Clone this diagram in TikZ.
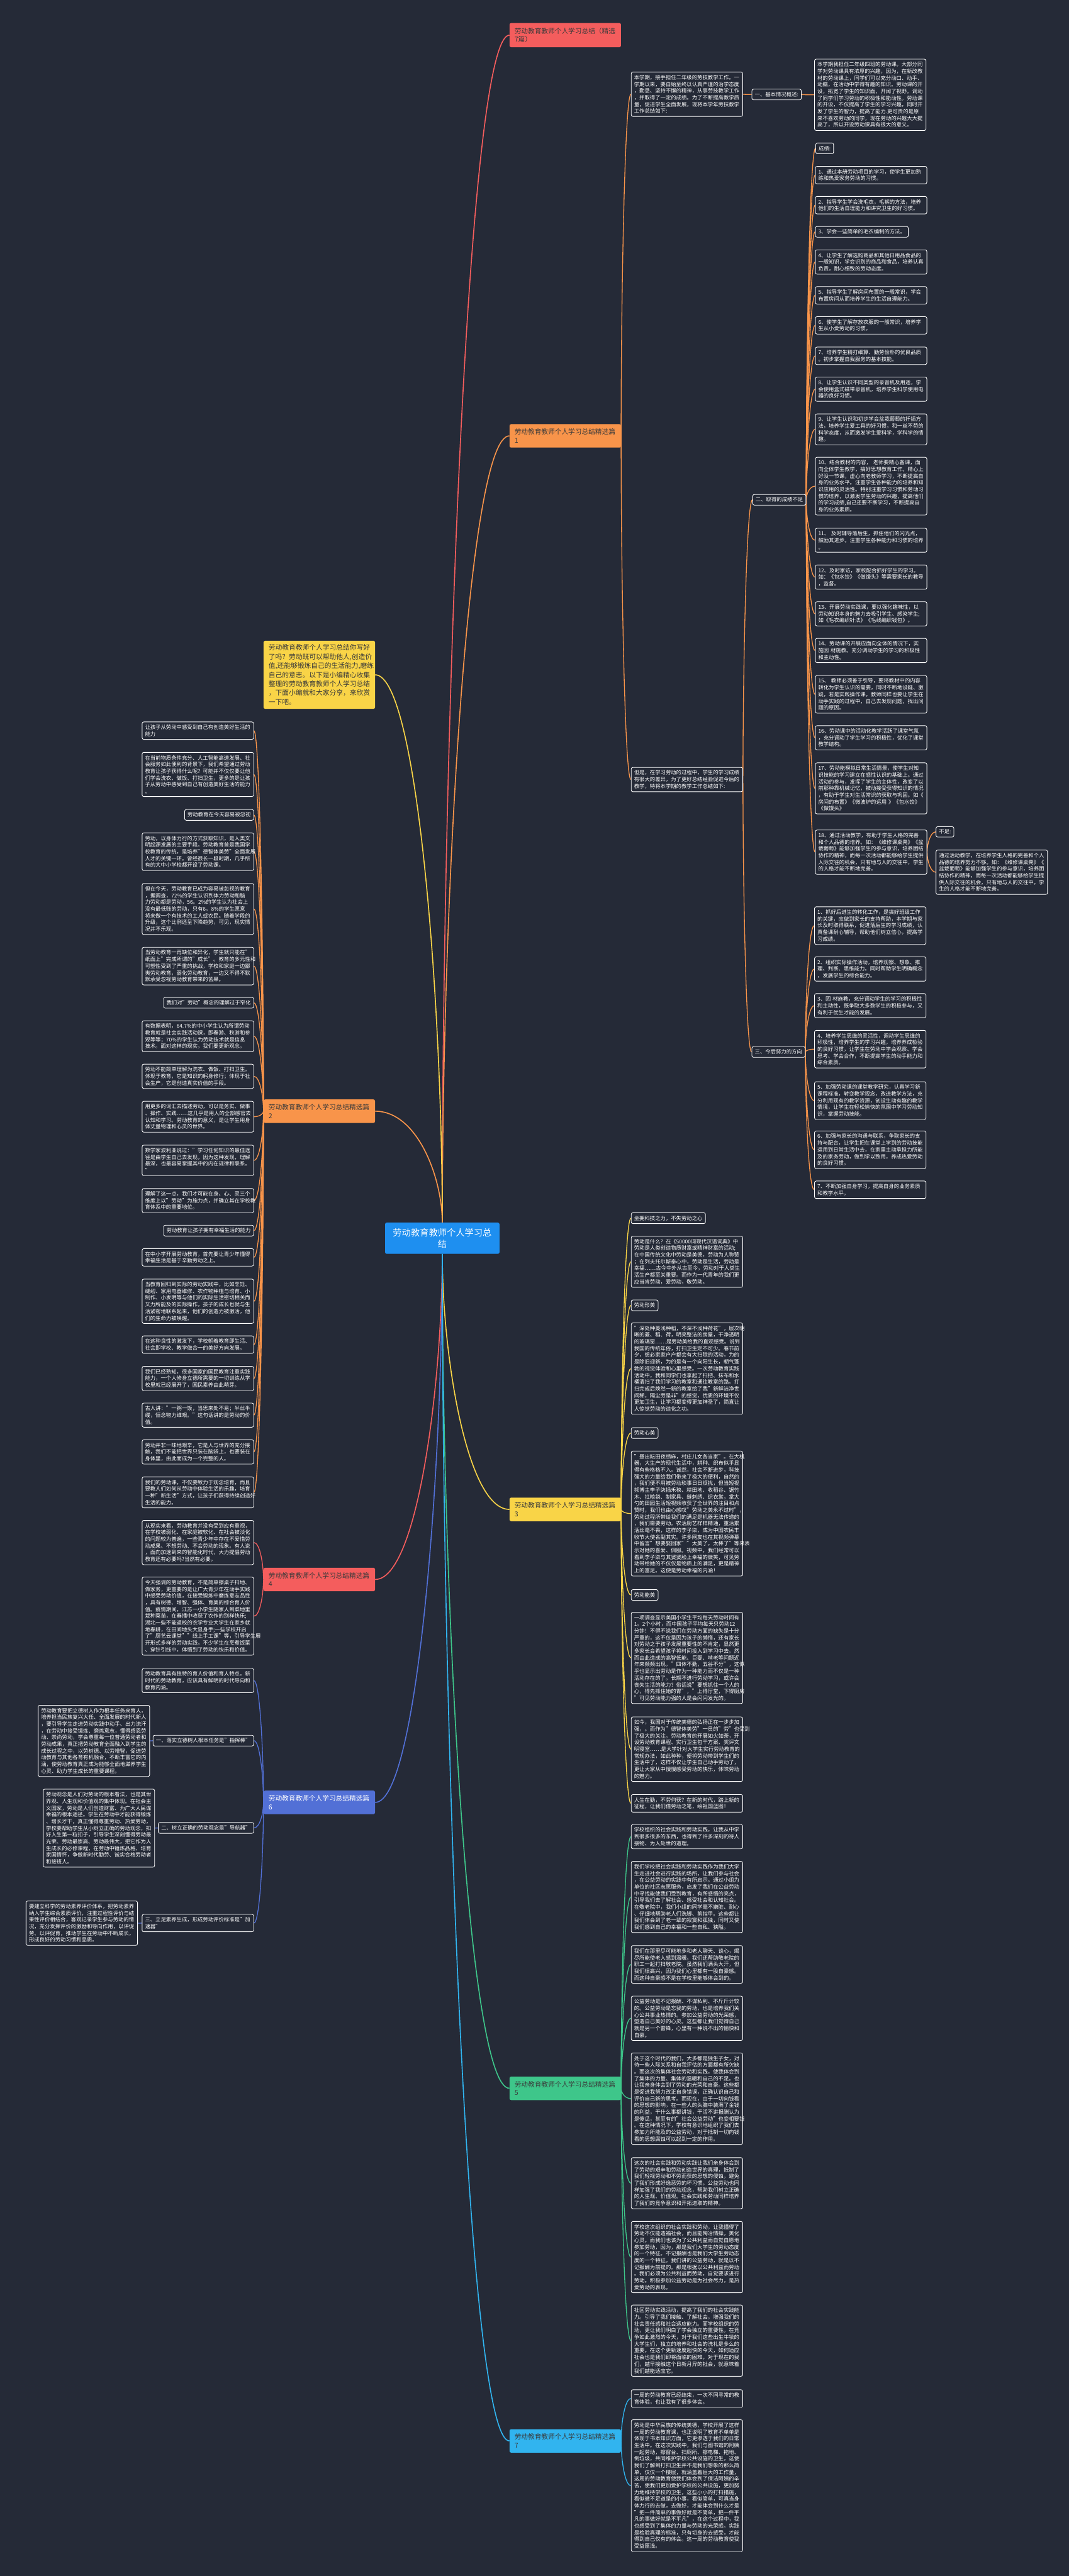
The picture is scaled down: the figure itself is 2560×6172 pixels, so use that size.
\documentclass[tikz,border=0pt]{standalone}
\usepackage{fontspec}
\setmainfont{Noto Sans CJK SC}
\usetikzlibrary{calc}
\definecolor{bgc}{HTML}{252A37}
\definecolor{cred}{HTML}{F45D5D}
\definecolor{corg}{HTML}{F8944A}
\definecolor{cyel}{HTML}{F9D447}
\definecolor{cgrn}{HTML}{3EC68A}
\definecolor{cblu}{HTML}{5270D6}
\definecolor{ccya}{HTML}{31B4EF}
\definecolor{cctr}{HTML}{1E8FF0}
\definecolor{dtxt}{HTML}{3A3A3A}
\pgfdeclarelayer{back}
\pgfsetlayers{back,main}
\newcommand\fbody{\fontsize{12.6}{16.1}\selectfont}
\newcommand\fbr{\fontsize{16.1}{20.6}\selectfont}
\newcommand\fctr{\fontsize{21.5}{27}\selectfont}
\newcommand\lnk[4][2pt]{\draw[#2,line width=#1] (#3) .. controls ($(#3)!0.4!(#3|-#4)$) and ($(#3|-#4)!0.37!(#4)$) .. (#4);}
\tikzset{
  tb/.style={draw=white, line width=1.3pt, rounded corners=4pt, fill=bgc, text=white, font=\fbody, inner xsep=7pt, inner ysep=7pt, align=left},
  tw/.style={tb, text width=253pt},
  br/.style={rounded corners=4pt, font=\fbr, inner xsep=12pt, inner ysep=11pt, align=left, text width=243pt, text=dtxt},
  L/.style={anchor=north west},
  R/.style={anchor=north east},
}
\begin{document}
\begin{tikzpicture}[x=1pt,y=-1pt]
\useasboundingbox (0,0) rectangle (2560,6172);
% ---------- central and branches
\node[anchor=north west, fill=cctr, rounded corners=4pt, text=white, font=\fctr, align=center, text width=238pt, inner xsep=18pt, inner ysep=14pt] (ctr) at (922,2929) {劳动教育教师个人学习总\\结};
\node[br, L, fill=cred] (ttl) at (1220,55) {劳动教育教师个人学习总结（精选\\7篇）};
\node[br, L, fill=corg] (p1) at (1220,1016) {劳动教育教师个人学习总结精选篇\\1};
\node[br, L, fill=cyel, inner ysep=9pt, font=\fontsize{16.2}{21.7}\selectfont] (intro) at (631,1535) {劳动教育教师个人学习总结你写好\\了吗？劳动既可以帮助他人,创造价\\值,还能够锻炼自己的生活能力,磨练\\自己的意志。以下是小编精心收集\\整理的劳动教育教师个人学习总结\\，下面小编就和大家分享，来欣赏\\一下吧。};
\node[br, L, fill=corg] (p2) at (631,2634) {劳动教育教师个人学习总结精选篇\\2};
\node[br, L, fill=cyel] (p3) at (1220,3588) {劳动教育教师个人学习总结精选篇\\3};
\node[br, L, fill=cred] (p4) at (631,3756) {劳动教育教师个人学习总结精选篇\\4};
\node[br, L, fill=cgrn] (p5) at (1220,4975) {劳动教育教师个人学习总结精选篇\\5};
\node[br, L, fill=cblu, text=white] (p6) at (631,4290) {劳动教育教师个人学习总结精选篇\\6};
\node[br, L, fill=ccya] (p7) at (1220,5820) {劳动教育教师个人学习总结精选篇\\7};
% ---------- part 1
\node[tw, L] (a1) at (1511,172) {本学期，接手担任二年级的劳技教学工作。一\\学期以来，要自始至终以认真严谨的治学态度\\，勤恳、坚持不懈的精神，从事劳技教学工作\\，并取得了一定的成绩。为了不断提高教学质\\量，促进学生全面发展，现将本学年劳技教学\\工作总结如下:};
\node[tb, L] (one) at (1800,213) {一、基本情况概述:};
\node[tw, L] (b1) at (1950,141) {本学期我担任二年级四班的劳动课。大部分同\\学对劳动课具有浓厚的兴趣，因为，在新改教\\材的劳动课上，同学们可以充分动口、动手、\\动脑，在活动中学得有趣的知识。劳动课的开\\设，拓宽了学生的知识面，开阔了视野。调动\\了同学们学习劳动的积极性和能动性。劳动课\\的开设，不仅提高了学生的学习兴趣，同时开\\发了学生的智力，提高了能力.更可贵的是原\\来不喜欢劳动的同学，现在劳动的兴趣大大提\\高了，所以开设劳动课具有很大的意义。};
\node[tw, L] (c1) at (1511,1838) {但是，在学习劳动的过程中，学生的学习成绩\\有很大的差异，为了更好总结经验促进今后的\\教学，特将本学期的教学工作总结如下:};
\node[tb, L] (two) at (1802,1184) {二、取得的成绩不足};
\node[tb, L] (three) at (1800,2507) {三、今后努力的方向};
\node[tb, L] (cj) at (1953,342) {成绩:};
\node[tw, L] (i1) at (1952,398) {1、通过本册劳动项目的学习，使学生更加熟\\练和热爱家务劳动的习惯。};
\node[tw, L] (i2) at (1952,470) {2、指导学生学会洗毛衣，毛裤的方法，培养\\他们的生活自理能力和讲究卫生的好习惯。};
\node[tb, L] (i3) at (1952,542) {3、学会一些简单的毛衣编制的方法。};
\node[tw, L] (i4) at (1952,598) {4、让学生了解选购商品和其他日用品食品的\\一般知识，学会识别的商品和食品，培养认真\\负责，耐心细致的劳动态度。};
\node[tw, L] (i5) at (1952,686) {5、指导学生了解房间布置的一般常识，学会\\布置房间从而培养学生的生活自理能力。};
\node[tw, L] (i6) at (1952,758) {6、使学生了解存放衣服的一般常识，培养学\\生从小爱劳动的习惯。};
\node[tw, L] (i7) at (1952,831) {7、培养学生精打细算、勤劳俭朴的优良品质\\。初步掌握自我服务的基本技能。};
\node[tw, L] (i8) at (1952,903) {8、让学生认识不同类型的录音机及用途，学\\会使用盒式磁带录音机，培养学生科学使用电\\器的良好习惯。};
\node[tw, L] (i9) at (1952,991) {9、让学生认识和初步学会盆栽葡萄的扦插方\\法，培养学生爱工具的好习惯，和一丝不苟的\\科学态度，从而激发学生爱科学，学科学的情\\趣。};
\node[tw, L] (i10) at (1952,1095) {10、结合教材的内容， 老师要精心备课，面\\向全体学生教学，搞好思想教育工作。精心上\\好没一节课，虚心向老教师学习，不断提高自\\身的业务水平。注重学生各种能力的培养和知\\识应用的灵活性。特别注重学习习惯和劳动习\\惯的培养，以激发学生劳动的兴趣，提高他们\\的学习成绩,自己还要不断学习，不断提高自\\身的业务素质。};
\node[tw, L] (i11) at (1952,1265) {11、 及时辅导落后生，抓住他们的闪光点，\\鼓励其进步。注重学生各种能力和习惯的培养\\。};
\node[tw, L] (i12) at (1952,1353) {12、及时家访，家校配合抓好学生的学习。\\如：《包水饺》《做馒头》等需要家长的教导\\，监督。};
\node[tw, L] (i13) at (1952,1441) {13、开展劳动实践课，要以强化趣味性，以\\劳动知识本身的魅力去吸引学生、感染学生;\\如《毛衣编织针法》《毛线编织钱包》。};
\node[tw, L] (i14) at (1952,1529) {14、劳动课的开展应面向全体的情况下，实\\施因 材施教。充分调动学生的学习的积极性\\和主动性。};
\node[tw, L] (i15) at (1952,1618) {15、 教师必须善于引导，要将教材中的内容\\转化为学生认识的需要，同时不断地设疑、激\\疑，若是实践操作课，教师同样也要让学生在\\动手实践的过程中，自己去发现问题，找出问\\题的原因。};
\node[tw, L] (i16) at (1952,1738) {16、劳动课中的活动化教学活跃了课堂气氛\\，充分调动了学生学习的积极性，优化了课堂\\教学结构。};
\node[tw, L] (i17) at (1952,1827) {17、劳动能模拟日常生活情景，使学生对知\\识技能的学习建立在感性认识的基础上。通过\\活动的参与，发挥了学生的主体性，改变了以\\前那种靠机械记忆，被动接受获得知识的情况\\，有助于学生对生活常识的获取与巩固。如《\\房间的布置》《微波炉的运用 》《包水饺》\\《做馒头》};
\node[tw, L] (i18) at (1952,1988) {18、通过活动教学，有助于学生人格的完善\\和个人品德的培养。如：《维修课桌凳》《盆\\栽葡萄》能够加强学生的参与意识，培养团结\\协作的精神，而每一次活动都能够给学生提供\\人际交往的机会，只有地与人的交往中，学生\\的人格才能不断地完善。};
\node[tb, L] (bz) at (2241,1980) {不足:};
\node[tw, L] (bzt) at (2241,2036) {通过活动教学，在培养学生人格的完善和个人\\品德的培养努力不够。如：《维修课桌凳》《\\盆栽葡萄》能够加强学生的参与意识，培养团\\结协作的精神，而每一次活动都能够给学生提\\供人际交往的机会，只有地与人的交往中，学\\生的人格才能不断地完善。};
\node[tw, L] (t1) at (1950,2172) {1、抓好后进生的转化工作，是搞好班级工作\\的关键，应做到家长的支持帮助，本学期与家\\长及时取得联系，促进落后生的学习成绩，认\\真备课耐心辅导，帮助他们树立信心，提高学\\习成绩。};
\node[tw, L] (t2) at (1950,2292) {2、组织实际操作活动，培养观察、想象、推\\理、判断、思维能力。同时帮助学生明确概念\\，发展学生的综合能力。};
\node[tw, L] (t3) at (1950,2380) {3、因 材施教，充分调动学生的学习的积极性\\和主动性，既争取大多数学生的积极参与，又\\有利于优生才能的发展。};
\node[tw, L] (t4) at (1950,2468) {4、培养学生思维的灵活性，调动学生思维的\\积极性，培养学生的学习兴趣，培养养成检验\\的良好习惯，让学生在劳动中学会观察、学会\\思考、学会合作，不断提高学生的动手能力和\\综合素质。};
\node[tw, L] (t5) at (1950,2591) {5、加强劳动课的课堂教学研究，认真学习新\\课程标准，转变教学观念，改进教学方法，充\\分利用现有的教学资源，创设生动有趣的教学\\情境，让学生在轻松愉快的氛围中学习劳动知\\识，掌握劳动技能。};
\node[tw, L] (t6) at (1950,2709) {6、加强与家长的沟通与联系，争取家长的支\\持与配合，让学生把在课堂上学到的劳动技能\\运用到日常生活中去，在家里主动承担力所能\\及的家务劳动，做到学以致用，养成热爱劳动\\的良好习惯。};
\node[tw, L] (t7) at (1950,2829) {7、不断加强自身学习，提高自身的业务素质\\和教学水平。};
% ---------- part 2
\node[tw, R] (q1) at (608,1729) {让孩子从劳动中感受到自己有创造美好生活的\\能力};
\node[tw, R] (q2) at (608,1802) {在当前物质条件充分、人工智能高速发展、社\\会服务如此便利的背景下，我们希望通过劳动\\教育让孩子获得什么呢？可能并不仅仅要让他\\们学会洗衣、做饭、打扫卫生，更多的是让孩\\子从劳动中感受到自己有创造美好生活的能力\\。};
\node[tb, R] (q3) at (608,1939) {劳动教育在今天容易被忽视};
\node[tw, R] (q4) at (608,1995) {劳动，以身体力行的方式获取知识，是人类文\\明起源发展的主要手段。劳动教育曾是我国学\\校教育的传统，是培养"德智体美劳"全面发展\\人才的关键一环。曾经很长一段时期，几乎所\\有的大中小学校都开设了劳动课。};
\node[tw, R] (q5) at (608,2116) {但在今天，劳动教育已成为容易被忽视的教育\\，据调查，72\%的学生认识到体力劳动和脑\\力劳动都是劳动，56。2\%的学生认为社会上\\没有最低贱的劳动，只有6。8\%的学生愿意\\将来做一个有技术的工人或农民。随着学段的\\升级，这个比例还呈下降趋势，可见，现实情\\况并不乐观。};
\node[tw, R] (q6) at (608,2269) {当劳动教育一再缺位和异化，学生就只能在"\\纸面上"完成所谓的"成长"。教育的多元性和\\可塑性受到了严重的挑战，学校和家庭一边鄙\\夷劳动教育，弱化劳动教育，一边又不得不默\\默承受忽视劳动教育带来的苦果。};
\node[tb, R] (q7) at (608,2389) {我们对"劳动"概念的理解过于窄化};
\node[tw, R] (q8) at (608,2445) {有数据表明，64.7\%的中小学生认为所谓劳动\\教育就是社会实践活动课，即春游、秋游和参\\观等等；70\%的学生认为劳动技术就是信息\\技术。面对这样的现实，我们要更新观念。};
\node[tw, R] (q9) at (608,2549) {劳动不能简单理解为洗衣、做饭、打扫卫生。\\体现于教育，它是知识的躬身修行；体现于社\\会生产，它是创造真实价值的手段。};
\node[tw, R] (q10) at (608,2638) {用更多的词汇去描述劳动，可以是务实、做事\\、操作、实践……这几乎是用人的全部感官去\\认知和学习。劳动教育的意义，是让学生用身\\体丈量物理和心灵的世界。};
\node[tw, R] (q11) at (608,2743) {数学家波利亚说过："学习任何知识的最佳途\\径是由学生自己去发现，因为这种发现，理解\\最深，也最容易掌握其中的内在规律和联系。\\"};
\node[tw, R] (q12) at (608,2847) {理解了这一点，我们才可能在身、心、灵三个\\维度上以"劳动"为施力点，并确立其在学校教\\育体系中的重要地位。};
\node[tb, R] (q13) at (608,2935) {劳动教育让孩子拥有幸福生活的能力};
\node[tw, R] (q14) at (608,2991) {在中小学开展劳动教育，首先要让青少年懂得\\幸福生活是基于辛勤劳动之上。};
\node[tw, R] (q15) at (608,3064) {当教育回归到实际的劳动实践中，比如烹饪、\\缝纫、家用电器维修、农作物种植与培育、小\\制作、小发明等与他们的实际生活密切相关而\\又力所能及的实际操作，孩子的成长也就与生\\活紧密地联系起来，他们的创造力被激活，他\\们的生命力被唤醒。};
\node[tw, R] (q16) at (608,3200) {在这种良性的激发下，学校朝着教育即生活、\\社会即学校、教学做合一的美好方向发展。};
\node[tw, R] (q17) at (608,3273) {我们已经熟知，很多国家的国民教育注重实践\\能力，一个人修身立德所需要的一切训练从学\\校里就已经展开了，国民素养由此萌芽。};
\node[tw, R] (q18) at (608,3361) {古人讲："一粥一饭，当思来处不易；半丝半\\缕，恒念物力维艰。"这句话讲的是劳动的价\\值。};
\node[tw, R] (q19) at (608,3449) {劳动并非一味地艰辛，它是人与世界的充分接\\触，我们不能把世界只装在脑袋上，也要装在\\身体里，由此而成为一个完整的人。};
\node[tw, R] (q20) at (608,3538) {我们的劳动课，不仅要致力于观念培育，而且\\要教人们如何从劳动中体验生活的乐趣，培育\\一种"新生活"方式，让孩子们获得持续创造好\\生活的能力。};
% ---------- part 4
\node[tw, R] (u1) at (608,3642) {从现实来看，劳动教育并没有受到应有重视，\\在学校被弱化、在家庭被软化、在社会被淡化\\的问题较为普遍，一些青少年中存在不爱惜劳\\动成果、不想劳动、不会劳动的现象。有人说\\，面向加速到来的智能化时代，大力提倡劳动\\教育还有必要吗?当然有必要。};
\node[tw, R] (u2) at (608,3778) {今天强调的劳动教育，不是简单擦桌子扫地、\\做家务，更重要的是让广大青少年在动手实践\\中感受劳动价值，在接受锻炼中磨炼意志品性\\，具有树德、增智、强体、育美的综合育人价\\值。疫情期间，江苏一小学生随家人到菜地里\\栽种菜苗，在春播中收获了农作的别样快乐;\\湖北一些不能返校的农学专业大学生在家乡就\\地春耕，在田间地头大显身手;一些学校开启\\了"厨艺云课堂""线上手工课"等，引导学生展\\开形式多样的劳动实践，不少学生在烹煮饭菜\\、穿针引线中，体悟到了劳动的快乐和价值。};
% ---------- part 6
\node[tw, R] (w1) at (608,3997) {劳动教育具有独特的育人价值和育人特点。新\\时代的劳动教育，应该具有鲜明的时代导向和\\教育内涵。};
\node[tb, R] (w2) at (608,4157) {一、落实立德树人根本任务是"指挥棒"};
\node[tb, R] (w3) at (608,4366) {二、树立正确的劳动观念是"导航器"};
\node[tw, R] (w4) at (608,4586) {三、立足素养生成，形成劳动评价标准是"加\\速器"};
\node[tw, R] (x1) at (359,4085) {劳动教育要把立德树人作为根本任务来育人，\\培养担当民族复兴大任、全面发展的时代新人\\，要引导学生走进劳动实践中动手、出力流汗\\，在劳动中接受锻炼、磨炼意志，懂得感恩劳\\动、崇尚劳动，学会尊重每一位普通劳动者和\\劳动成果，真正把劳动教育全面融入到学生的\\成长过程之中，以劳树德、以劳增智，促进劳\\动教育与其他各育有机融合，不断丰富它的内\\涵，使劳动教育真正成为能够全面地滋养学生\\心灵、助力学生成长的重要课程。};
\node[tw, R] (x2) at (371,4286) {劳动观念是人们对劳动的根本看法，也是其世\\界观、人生观和价值观的集中体现。在社会主\\义国家，劳动是人们创造财富、为广大人民谋\\幸福的根本途径。学生在劳动中才能获得锻炼\\、增长才干，真正懂得尊重劳动、热爱劳动，\\学校要帮助学生从小树立正确的劳动观念，扣\\好人生第一粒扣子，引导学生深刻懂得劳动最\\光荣、劳动最崇高、劳动最伟大，把它作为人\\生成长的必修课程，在劳动中锤炼品格、培育\\家国情怀，争做新时代勤劳、诚实合格劳动者\\和接班人。};
\node[tw, R] (x3) at (330,4554) {要建立科学的劳动素养评价体系，把劳动素养\\纳入学生综合素质评价，注重过程性评价与结\\果性评价相结合，客观记录学生参与劳动的情\\况，充分发挥评价的激励和导向作用，以评促\\劳、以评促育，推动学生在劳动中不断成长，\\形成良好的劳动习惯和品质。};
% ---------- part 3
\node[tb, L] (y1) at (1511,2905) {坐拥科技之力，不失劳动之心};
\node[tw, L] (y2) at (1511,2961) {劳动是什么？在《50000词现代汉语词典》中\\劳动是人类创造物质财富或精神财富的活动;\\在中国传统文化中劳动是美德，劳动为人称赞\\；在列夫托尔斯泰心中，劳动是生活，劳动是\\幸福……古今中外从古至今，劳动对于人类生\\活生产都至关重要。而作为一代青年的我们更\\应当肯劳动，爱劳动，敬劳动。};
\node[tb, L] (y3) at (1511,3114) {劳动形美};
\node[tw, L] (y4) at (1511,3169) {"深处种菱浅种稻，不深不浅种荷花"，层次明\\晰的菱、稻、荷，明亮整洁的房屋，干净透明\\的玻璃窗……是劳动美给我的直观感受。说到\\我国的传统年俗，打扫卫生定不可少。春节前\\夕，想必家家户户都会有大扫除的活动，为的\\是除旧迎新，为的是有一个向阳生长，朝气蓬\\勃的视觉体验和心里感受。一次劳动教育实践\\活动中，我和同学们也拿起了扫把、抹布和水\\桶清扫了我们学习的教室和通往教室的路。打\\扫完成后焕然一新的教室给了我"新鲜洁净世\\间稀，隔尘劳是非"的感觉，优质的环境不仅\\更加卫生，让学习都变得更加神圣了，简直让\\人惊觉劳动的造化之功。};
\node[tb, L] (y5) at (1511,3420) {劳动心美};
\node[tw, L] (y6) at (1511,3476) {"昼出耘田夜绩麻，村庄儿女各当家"。在大机\\器，大生产的现代生活中，耕种、织布似乎显\\得有些格格不入。诚然，社会不断进步，科技\\强大的力量给我们带来了极大的便利，自然的\\，我们便不用被劳动琐事日日烦扰，但当短视\\频博主李子柒插禾秧、耕田地、收稻谷、锯竹\\木、扛粮袋、制家具、缝刺绣、织衣裳，掌大\\勺的田园生活短视频收获了全世界的注目和点\\赞时，我们也由心感叹"劳动之美永不过时"，\\劳动过程所带给我们的满足是机器无法传递的\\，我们需要劳动。农活厨艺样样精通，重活累\\活丝毫不畏，这样的李子柒，成为中国农民丰\\收节大使名副其实。许多网友也在其视频弹幕\\中留言"想要娶回家""太美了，太棒了"等来表\\示对她的喜爱、佩服。视频中，我们经常可以\\看到李子柒与其婆婆脸上幸福的微笑，可见劳\\动带给她的不仅仅是物质上的满足，更是精神\\上的富足。这便是劳动幸福的内涵！};
\node[tb, L] (y7) at (1511,3808) {劳动能美};
\node[tw, L] (y8) at (1511,3862) {一项调查显示美国小学生平均每天劳动时间有\\1。2个小时，而中国孩子平均每天只劳动12\\分钟！不得不说我们在劳动方面的缺失是十分\\严重的，这不仅是因为孩子的懒惰，还有家长\\对劳动之于孩子发展重要性的不肯定，显然更\\多家长会希望孩子将时间投入到学习中去。然\\而由此造成的高智低能、巨婴、啃老等问题近\\年来频频出现。"四体不勤，五谷不分"，这似\\乎也显示出劳动是作为一种能力而不仅是一种\\活动存在的了。长期不进行劳动学习，或许会\\丧失生活的能力？俗话说"要想抓住一个人的\\心，得先抓住她的胃"，"上得厅堂，下得厨房\\"可见劳动能力强的人是会闪闪发光的。};
\node[tw, L] (y9) at (1511,4113) {如今，我国对于传统美德的弘扬正在一步步加\\强，。而作为"德智体美劳"一员的"劳"也受到\\了极大的关注。劳动教育的开展如火如荼，开\\设劳动教育课程、实行卫生包干方案、奖评文\\明寝室……是大学针对大学生实行劳动教育的\\常规办法，如此种种，便将劳动带到学生们的\\生活中了，这样不仅让学生自己动手劳动了，\\更让大家从中慢慢感受劳动的快乐，体味劳动\\的魅力。};
\node[tw, L] (y10) at (1511,4299) {人生在勤，不劳何获？在新的时代，踏上新的\\征程，让我们借劳动之笔，绘祖国蓝图！};
% ---------- part 5
\node[tw, L] (g1) at (1511,4371) {学校组织的社会实践和劳动实践，让我从中学\\到很多很多的东西，也得到了许多深刻的待人\\接物、为人处世的道理。};
\node[tw, L] (g2) at (1511,4459) {我们学校把社会实践和劳动实践作为我们大学\\生走进社会进行实践的场所，让我们参与社会\\，在公益劳动的实践中有所启示。通过小组为\\单位的社区志愿服务，启发了我们在公益劳动\\中寻找能使我们受到教育，有所感悟的亮点，\\引导我们去了解社会、感受社会和认知社会。\\在敬老院中，我们小组的同学毫不嫌脏、耐心\\、仔细地帮助老人们洗脚、剪指甲。这些都让\\我们体会到了老一辈的寂寞和孤独，同时又使\\我们感到自己的幸福和一些自私、狭隘。};
\node[tw, L] (g3) at (1511,4661) {我们在那里尽可能地多和老人聊天、谈心，竭\\尽所能使老人感到温暖。我们还帮助敬老院的\\职工一起打扫敬老院。虽然我们满头大汗，但\\我们很高兴，因为我们心里都有一股自豪感。\\而这种自豪感不是在学校里能够体会到的。};
\node[tw, L] (g4) at (1511,4782) {公益劳动是不记报酬、不谋私利、不斤斤计较\\的。公益劳动是忘我的劳动，也是培养我们关\\心公共事业热情的。参加公益劳动的光荣感，\\塑造自己美好的心灵。这些都让我们觉得自己\\就是另一个雷锋，心里有一种说不出的愉快和\\自豪。};
\node[tw, L] (g5) at (1511,4918) {处于这个时代的我们，大多都是独生子女，对\\待一些人际关系和自我评估的方面都有所欠缺\\。而这次的集体社会劳动和实践，使我体会到\\了集体的力量、集体的温暖和自己的不足。也\\让我亲身体会到了劳动的光荣和自豪。这些都\\是促进我努力改正自身错误，正确认识自己和\\评价自己新的思考。而现在，由于一切向钱看\\的思想的影响，在一些人的头脑中装满了金钱\\的利益，干什么事都讲钱，干活不讲报酬认为\\是傻瓜，甚至有的"社会公益劳动"也变相要钱\\。在这种情况下，学校有意识地组织了我们去\\参加力所能及的公益劳动，对于抵制一切向钱\\看的思想腐蚀可以起到一定的作用。};
\node[tw, L] (g6) at (1511,5169) {这次的社会实践和劳动实践让我们亲身体会到\\了劳动的艰辛和劳动创造世界的真理，抵制了\\我们轻视劳动和不劳而获的思想的侵蚀，避免\\了我们形成好逸恶劳的坏习惯。公益劳动也同\\样加强了我们的劳动观念，帮助我们树立正确\\的人生观、价值观。社会实践和劳动同样培养\\了我们的竞争意识和开拓进取的精神。};
\node[tw, L] (g7) at (1511,5322) {学校这次组织的社会实践和劳动，让我懂得了\\劳动不仅能造福社会，而且能陶冶情操，美化\\心灵。而我们也该为了公共利益而自觉自愿地\\参加劳动，因为，那是我们大学生的劳动态度\\的一个特征。不记报酬也是我们大学生劳动态\\度的一个特征。我们讲的公益劳动，就是以不\\记报酬为前提的。那是根据以公共利益而劳动\\。我们必须为公共利益而劳动，自觉要求进行\\劳动。积极参加公益劳动是为社会尽力，是热\\爱劳动的表现。};
\node[tw, L] (g8) at (1511,5522) {社区劳动实践活动，提高了我们的社会实践能\\力。引导了我们接触、了解社会，增强我们的\\社会责任感和社会适应能力。而学校组织的劳\\动，更让我们明白了学会独立的重要性。在竞\\争如此激烈的今天，对于我们这些出生牛犊的\\大学生们，独立的培养和社会的洗礼是多么的\\重要。在这个更新速度超快的今天，如何适应\\社会也是我们即将面临的困难。对于现在的我\\们，越早接触这个日新月异的社会，就意味着\\我们越能适应它。};
% ---------- part 7
\node[tw, L] (k1) at (1511,5725) {一周的劳动教育已经结束，一次不同寻常的教\\育体验，也让我有了很多体会。};
\node[tw, L] (k2) at (1511,5797) {劳动是中华民族的传统美德，学校开展了这样\\一周的劳动教育课，也正说明了教育不单单是\\体现于书本知识方面，它更渗透于我们的日常\\生活中。在这次实践中，我们与图书馆的阿姨\\一起劳动，擦窗台、扫厕所、擦电梯、拖地、\\倒垃圾，共同维护学校公共设施的卫生，这使\\我们了解到打扫卫生并不是我们想象的那么简\\单，仅仅一个楼层，就涵盖着巨大的工作量，\\这周的劳动教育使我们体会到了保洁阿姨的辛\\苦，使我们更加爱护学校的公共设施，更加努\\力地维持学校的卫生，这些小小的打扫措施，\\看似微不足道是的小事，看似简单，可真当身\\体力行的去做，去做好，才能体会到什么才是\\"把一件简单的事做好就是不简单，把一件平\\凡的事做好就是不平凡"，在这个过程中，我\\也感受到了集体的力量与劳动的光荣感。实践\\是检验真理的标准，只有切身的去感受，才能\\得到自己仅有的体会。这一周的劳动教育使我\\受益匪浅。};
% ---------- connectors
\begin{pgfonlayer}{back}
\fill[bgc] (0,0) rectangle (2560,6172);
\lnk[2.5pt]{cred}{ctr.north}{ttl.west}
\lnk[2.5pt]{corg}{ctr.north}{p1.west}
\lnk[2.5pt]{cyel}{ctr.north}{intro.east}
\lnk[2.5pt]{corg}{ctr.north}{p2.east}
\lnk[2.5pt]{cyel}{ctr.south}{p3.west}
\lnk[2.5pt]{cred}{ctr.south}{p4.east}
\lnk[2.5pt]{cgrn}{ctr.south}{p5.west}
\lnk[2.5pt]{cblu}{ctr.south}{p6.east}
\lnk[2.5pt]{ccya}{ctr.south}{p7.west}
\lnk{corg}{p1.east}{a1.west}
\lnk{corg}{p1.east}{c1.west}
\lnk{corg}{a1.east}{one.west}
\lnk{corg}{one.east}{b1.west}
\lnk{corg}{c1.east}{two.west}
\lnk{corg}{c1.east}{three.west}
\foreach \n in {cj,i1,i2,i3,i4,i5,i6,i7,i8,i9,i10,i11,i12,i13,i14,i15,i16,i17,i18}{\lnk{corg}{two.east}{\n.west}}
\lnk{corg}{i18.east}{bz.west}
\lnk{corg}{i18.east}{bzt.west}
\foreach \n in {t1,t2,t3,t4,t5,t6,t7}{\lnk{corg}{three.east}{\n.west}}
\foreach \n in {q1,q2,q3,q4,q5,q6,q7,q8,q9,q10,q11,q12,q13,q14,q15,q16,q17,q18,q19,q20}{\lnk{corg}{p2.west}{\n.east}}
\foreach \n in {u1,u2}{\lnk{cred}{p4.west}{\n.east}}
\foreach \n in {w1,w2,w3,w4}{\lnk{cblu}{p6.west}{\n.east}}
\lnk{cblu}{w2.west}{x1.east}
\lnk{cblu}{w3.west}{x2.east}
\lnk{cblu}{w4.west}{x3.east}
\foreach \n in {y1,y2,y3,y4,y5,y6,y7,y8,y9,y10}{\lnk{cyel}{p3.east}{\n.west}}
\foreach \n in {g1,g2,g3,g4,g5,g6,g7,g8}{\lnk{cgrn}{p5.east}{\n.west}}
\foreach \n in {k1,k2}{\lnk{ccya}{p7.east}{\n.west}}
\end{pgfonlayer}
\end{tikzpicture}
\end{document}
